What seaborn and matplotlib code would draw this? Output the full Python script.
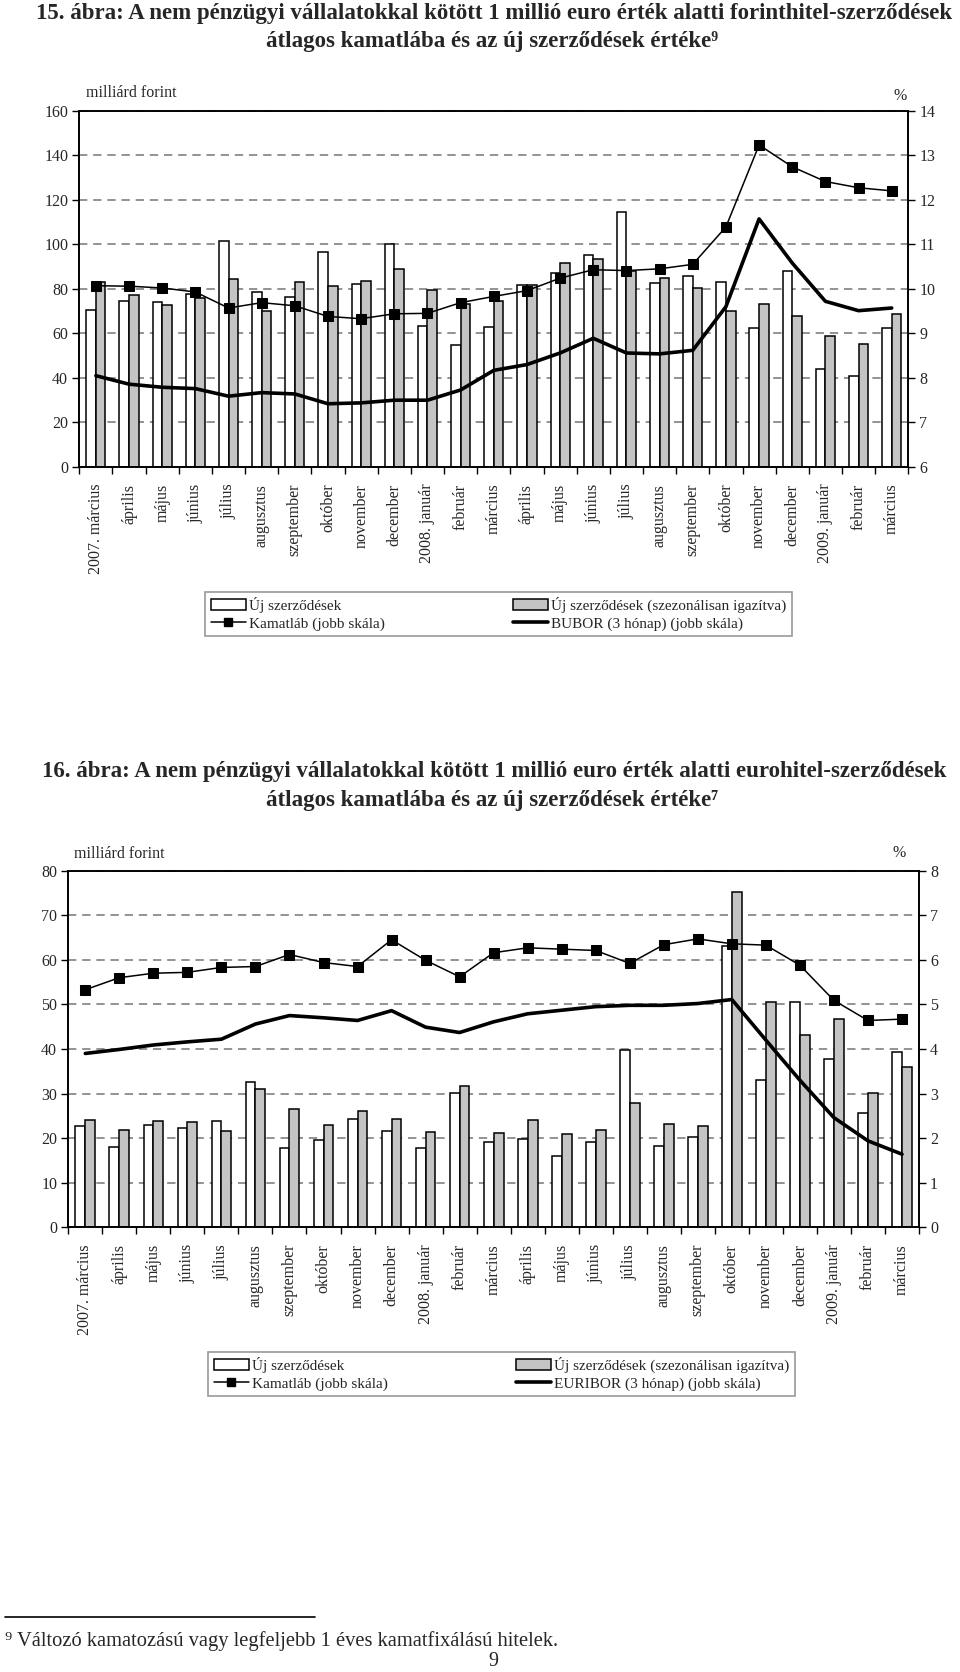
import numpy as np
import pandas as pd
import seaborn as sns
import matplotlib.pyplot as plt
from matplotlib.lines import Line2D
from matplotlib.patches import Patch

# x categories (monthly, 2007 March - 2009 March)
months = ["2007. március", "április", "május", "június", "július", "augusztus",
          "szeptember", "október", "november", "december", "2008. január", "február",
          "március", "április", "május", "június", "július", "augusztus", "szeptember",
          "október", "november", "december", "2009. január", "február", "március"]

# 15. ábra - forint loans (milliárd forint / %)
huf_new = [70.6, 74.5, 74.0, 77.6, 101.7, 78.5, 76.4, 96.6, 82.1, 100.0, 63.4, 54.9, 62.8,
           81.8, 87.2, 95.3, 114.4, 82.7, 85.7, 83.1, 62.4, 87.8, 44.1, 40.8, 62.4]
huf_sa = [83.3, 77.2, 72.7, 76.1, 84.3, 70.0, 83.0, 81.2, 83.4, 89.0, 79.3, 73.1, 74.4,
          81.6, 91.7, 93.3, 88.2, 84.9, 80.6, 70.0, 73.1, 67.6, 58.9, 55.2, 68.5]
huf_rate = [10.07, 10.06, 10.02, 9.93, 9.57, 9.69, 9.62, 9.38, 9.33, 9.44, 9.45, 9.69, 9.83,
            9.96, 10.24, 10.43, 10.41, 10.45, 10.55, 11.39, 13.23, 12.74, 12.41, 12.27, 12.20]
bubor = [8.05, 7.86, 7.79, 7.76, 7.59, 7.67, 7.64, 7.42, 7.44, 7.50, 7.50, 7.73, 8.17,
         8.30, 8.56, 8.89, 8.56, 8.54, 8.62, 9.60, 11.57, 10.58, 9.72, 9.51, 9.57]

# 16. ábra - euro loans (milliárd forint / %)
eur_new = [22.7, 18.1, 23.0, 22.2, 23.9, 32.5, 17.8, 19.5, 24.3, 21.5, 17.9, 30.1, 19.2,
           19.9, 16.0, 19.2, 39.7, 18.2, 20.2, 63.2, 33.0, 50.5, 37.8, 25.7, 39.3]
eur_sa = [24.1, 21.8, 23.9, 23.6, 21.6, 31.0, 26.5, 23.0, 26.2, 24.4, 21.3, 31.6, 21.1,
          24.1, 20.9, 21.8, 27.9, 23.1, 22.7, 75.2, 50.6, 43.2, 46.8, 30.2, 36.0]
eur_rate = [5.33, 5.60, 5.70, 5.72, 5.83, 5.85, 6.12, 5.94, 5.85, 6.45, 5.99, 5.62, 6.16,
            6.27, 6.24, 6.21, 5.92, 6.34, 6.47, 6.36, 6.33, 5.88, 5.09, 4.64, 4.67]
euribor = [3.90, 3.99, 4.09, 4.16, 4.22, 4.56, 4.75, 4.70, 4.64, 4.86, 4.49, 4.37, 4.61,
           4.79, 4.87, 4.95, 4.98, 4.98, 5.02, 5.11, 4.20, 3.30, 2.46, 1.94, 1.64]

lbl_new = "Új szerződések"
lbl_sa = "Új szerződések (szezonálisan igazítva)"
lbl_rate = "Kamatláb (jobb skála)"

sns.set_theme(style="ticks")
plt.rcParams["font.family"] = ["Liberation Serif", "DejaVu Serif"]

GRAY = "#c4c4c4"
SERIF = ["Liberation Serif", "DejaVu Serif"]


def draw_panel(fig, rect, new, sa, rate, ref, ylim_l, step_l, ylim_r, step_r):
    idx = list(range(len(months)))
    ax = fig.add_axes(rect)
    df = pd.DataFrame({
        "idx": idx + idx,
        "val": new + sa,
        "kind": [lbl_new] * len(new) + [lbl_sa] * len(sa),
    })
    sns.barplot(data=df, x="idx", y="val", hue="kind", hue_order=[lbl_new, lbl_sa],
                palette=["white", GRAY], edgecolor="black", linewidth=1.1,
                width=0.58, gap=0, errorbar=None, legend=False, ax=ax)
    ax.set_axisbelow(True)
    ax.yaxis.grid(True, ls=(0, (5, 3.5)), color="#808080", lw=1.2)
    ax.xaxis.grid(False)
    ax.set_ylim(*ylim_l)
    ax.set_yticks(np.arange(ylim_l[0], ylim_l[1] + 0.1, step_l))
    ax.set_xlim(-0.5, len(months) - 0.5)
    ax.set_xticks(idx)
    ax.set_xticklabels(months, rotation=90, fontsize=11.5)
    ax.set_xticks(np.arange(-0.5, len(months), 1), minor=True)
    ax.tick_params(axis="x", which="major", length=0, pad=12)
    ax.tick_params(axis="x", which="minor", length=5, width=1, direction="out", color="black")
    ax.tick_params(axis="y", length=5, width=1, direction="out", color="black", labelsize=11.5, pad=3)
    ax.set_xlabel("")
    ax.set_ylabel("")

    ax2 = ax.twinx()
    sns.lineplot(x=idx, y=rate, ax=ax2, color="black", lw=1.1, marker="s",
                 markersize=6.5, markeredgecolor="black", markerfacecolor="black")
    sns.lineplot(x=idx, y=ref, ax=ax2, color="black", lw=2.6)
    ax2.set_ylim(*ylim_r)
    ax2.set_yticks(np.arange(ylim_r[0], ylim_r[1] + 0.1, step_r))
    ax2.tick_params(axis="y", length=5, width=1, direction="out", color="black", labelsize=11.5, pad=3)
    ax2.set_ylabel("")
    ax2.grid(False)
    for a in (ax, ax2):
        for s in a.spines.values():
            s.set_visible(True)
            s.set_color("black")
            s.set_linewidth(1.2)
    return ax, ax2


def add_legend(fig, ref_label, center):
    handles = [
        Patch(facecolor="white", edgecolor="black", lw=1.1),
        Line2D([], [], color="black", lw=1.1, marker="s", markersize=6),
        Patch(facecolor=GRAY, edgecolor="black", lw=1.1),
        Line2D([], [], color="black", lw=2.6),
    ]
    labels = [lbl_new, lbl_rate, lbl_sa, ref_label]
    leg = fig.legend(handles, labels, ncol=2, loc="center", bbox_to_anchor=center,
                     fontsize=11, frameon=True, fancybox=False, edgecolor="#808080",
                     handlelength=2.3, handletextpad=0.2, columnspacing=8.4,
                     labelspacing=0.25, borderpad=0.35, borderaxespad=0)
    leg.get_frame().set_linewidth(1.2)


fig = plt.figure(figsize=(9.6, 16.72), dpi=100)
W, H = 960, 1672

# 15. ábra
fig.text(0.515, 1 - 13 / H, "15. ábra: A nem pénzügyi vállalatokkal kötött 1 millió euro érték alatti forinthitel-szerződések",
         ha="center", va="center", fontsize=16.5, fontweight="bold", family=SERIF)
fig.text(0.513, 1 - 41 / H, "átlagos kamatlába és az új szerződések értéke⁹",
         ha="center", va="center", fontsize=16.5, fontweight="bold", family=SERIF)
draw_panel(fig, [79.3 / W, 1 - 467 / H, 829 / W, 356.3 / H],
           huf_new, huf_sa, huf_rate, bubor, (0, 160), 20, (6, 14), 1)
fig.text(86 / W, 1 - 93 / H, "milliárd forint", ha="left", va="center", fontsize=11.5)
fig.text(900 / W, 1 - 96 / H, "%", ha="center", va="center", fontsize=11.5)
add_legend(fig, "BUBOR (3 hónap) (jobb skála)", (498.5 / W, 1 - 614 / H))

# 16. ábra
fig.text(0.515, 1 - 772 / H, "16. ábra: A nem pénzügyi vállalatokkal kötött 1 millió euro érték alatti eurohitel-szerződések",
         ha="center", va="center", fontsize=16.5, fontweight="bold", family=SERIF)
fig.text(0.513, 1 - 800 / H, "átlagos kamatlába és az új szerződések értéke⁷",
         ha="center", va="center", fontsize=16.5, fontweight="bold", family=SERIF)
draw_panel(fig, [68.3 / W, 1 - 1227.3 / H, 850.7 / W, 356.6 / H],
           eur_new, eur_sa, eur_rate, euribor, (0, 80), 10, (0, 8), 1)
fig.text(74 / W, 1 - 854 / H, "milliárd forint", ha="left", va="center", fontsize=11.5)
fig.text(899 / W, 1 - 853 / H, "%", ha="center", va="center", fontsize=11.5)
add_legend(fig, "EURIBOR (3 hónap) (jobb skála)", (501.5 / W, 1 - 1374 / H))

# footnote
fig.add_artist(Line2D([5 / W, 315 / W], [1 - 1617 / H, 1 - 1617 / H], color="black", lw=1.2))
fig.text(5 / W, 1 - 1641 / H, "⁹ Változó kamatozású vagy legfeljebb 1 éves kamatfixálású hitelek.",
         ha="left", va="center", fontsize=14.8, family=SERIF)
fig.text(493 / W, 1 - 1662 / H, "9", ha="center", va="center", fontsize=14.5, family=SERIF)

fig.savefig("out.png", dpi=100, facecolor="white")
